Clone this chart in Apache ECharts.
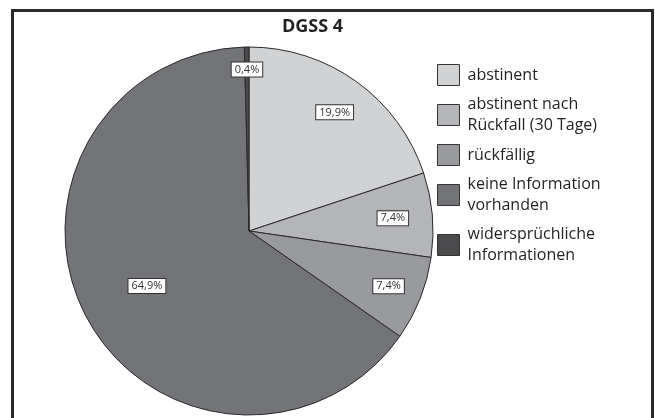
<!DOCTYPE html>
<html>
<head>
<meta charset="utf-8">
<script src="https://cdn.jsdelivr.net/npm/echarts@6/dist/echarts.min.js"></script>
<style>
  html, body { margin: 0; padding: 0; background: #fff; }
  #main { width: 655px; height: 418px; }
</style>
</head>
<body>
<div id="main"></div>
<script>
// Daten
var categories = ['abstinent', 'abstinent nach\nRückfall (30 Tage)', 'rückfällig', 'keine Information\nvorhanden', 'widersprüchliche\nInformationen'];
var values = [19.9, 7.4, 7.4, 64.9, 0.4];
var colors = ['#d1d2d4', '#b4b5b8', '#999a9d', '#737477', '#4b4b4d'];
// wie weit die Beschriftung nach aussen sitzt (Anteil am Radius)
var labelRadius = [0.77, 0.76, 0.79, 0.61, 0.85];

var pieCenter = [249, 231];
var pieR = 184;

var chart = echarts.init(document.getElementById('main'), null, { renderer: 'canvas' });

var option = {
    backgroundColor: '#fff',
    animation: false,
    title: {
        text: 'DGSS 4',
        left: 277,
        top: 13,
        textStyle: {
            fontFamily: 'Open Sans',
            fontSize: 18,
            fontWeight: 'bold',
            color: '#231f20'
        }
    },
    graphic: [{
        type: 'rect',
        shape: { x: 12.5, y: 10.5, width: 640, height: 420 },
        style: { fill: 'none', stroke: '#2a2a2a', lineWidth: 3 },
        silent: true
    }],
    legend: {
        orient: 'vertical',
        left: 437,
        top: 64,
        padding: 0,
        itemWidth: 22,
        itemHeight: 21,
        itemGap: 8,
        icon: 'rect',
        itemStyle: { borderColor: '#333', borderWidth: 1 },
        textStyle: {
            fontFamily: 'Open Sans',
            fontSize: 16,
            lineHeight: 21,
            color: '#231f20',
            padding: [0, 0, 0, 3]
        },
        data: categories
    },
    series: [{
        type: 'pie',
        center: pieCenter,
        radius: pieR,
        startAngle: 90,
        clockwise: true,
        itemStyle: { borderColor: '#2a2a2a', borderWidth: 1 },
        label: {
            show: true,
            position: 'inside',
            formatter: function (p) {
                return p.value.toFixed(1).replace('.', ',') + '%';
            },
            fontFamily: 'Open Sans',
            fontSize: 11,
            color: '#333',
            backgroundColor: '#fff',
            borderColor: '#333',
            borderWidth: 1,
            padding: [2, 3, 1, 3]
        },
        labelLayout: function (params) {
            var r = params.labelRect;
            var lx = r.x + r.width / 2;
            var ly = r.y + r.height / 2;
            var f = labelRadius[params.dataIndex] / 0.5 - 1;
            return { dx: (lx - pieCenter[0]) * f, dy: (ly - pieCenter[1]) * f };
        },
        emphasis: { disabled: true },
        data: categories.map(function (c, i) {
            return { name: c, value: values[i], itemStyle: { color: colors[i] } };
        })
    }]
};

chart.setOption(option);
</script>
</body>
</html>
